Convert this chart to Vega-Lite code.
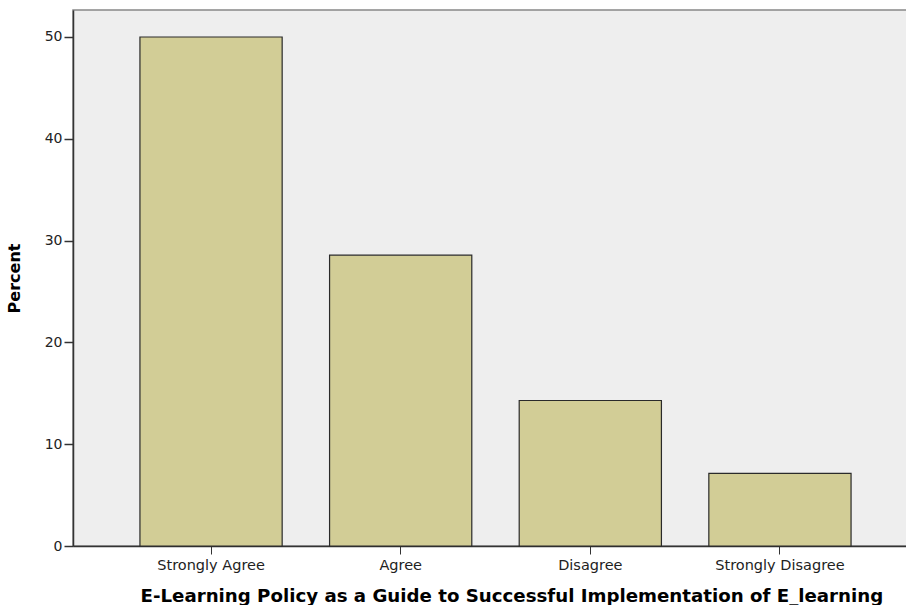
{
  "$schema": "https://vega.github.io/schema/vega-lite/v6.json",
  "autosize": "none",
  "width": 845,
  "height": 536,
  "padding": {"left": 73, "top": 10, "right": 0, "bottom": 59},
  "background": "white",
  "config": {
    "view": {"fill": "#EEEEEE", "stroke": "#888888", "strokeWidth": 1.5},
    "font": "DejaVu Sans"
  },
  "data": {
    "values": [
      {"response": "Strongly Agree", "percent": 50.0},
      {"response": "Agree", "percent": 28.57},
      {"response": "Disagree", "percent": 14.29},
      {"response": "Strongly Disagree", "percent": 7.14}
    ]
  },
  "mark": {"type": "bar", "fill": "#D2CD96", "stroke": "#2a2a2a", "strokeWidth": 1.2},
  "encoding": {
    "x": {
      "field": "response",
      "type": "nominal",
      "sort": null,
      "scale": {"paddingInner": 0.25, "paddingOuter": 0.353},
      "axis": {
        "title": "E-Learning Policy as a Guide to Successful Implementation of E_learning",
        "titleFont": "DejaVu Sans",
        "titleFontSize": 18.2,
        "titleFontWeight": "bold",
        "titleColor": "#000000",
        "titlePadding": 16,
        "titleAnchor": "start",
        "titleX": 67,
        "labelAngle": 0,
        "labelFont": "DejaVu Sans",
        "labelFontSize": 14.5,
        "labelColor": "#222222",
        "labelPadding": 4,
        "tickSize": 8,
        "tickColor": "#333333",
        "domainColor": "#333333",
        "domainWidth": 1.5,
        "grid": false
      }
    },
    "y": {
      "field": "percent",
      "type": "quantitative",
      "scale": {"domain": [0, 52.65], "nice": false},
      "axis": {
        "title": "Percent",
        "titleFont": "DejaVu Sans",
        "titleFontSize": 16,
        "titleFontWeight": "bold",
        "titleColor": "#000000",
        "titlePadding": 22,
        "values": [0, 10, 20, 30, 40, 50],
        "labelFont": "DejaVu Sans",
        "labelFontSize": 14,
        "labelColor": "#222222",
        "labelPadding": 2,
        "tickSize": 9,
        "tickWidth": 1.5,
        "tickColor": "#333333",
        "domainColor": "#333333",
        "domainWidth": 1.5,
        "grid": false
      }
    }
  }
}
